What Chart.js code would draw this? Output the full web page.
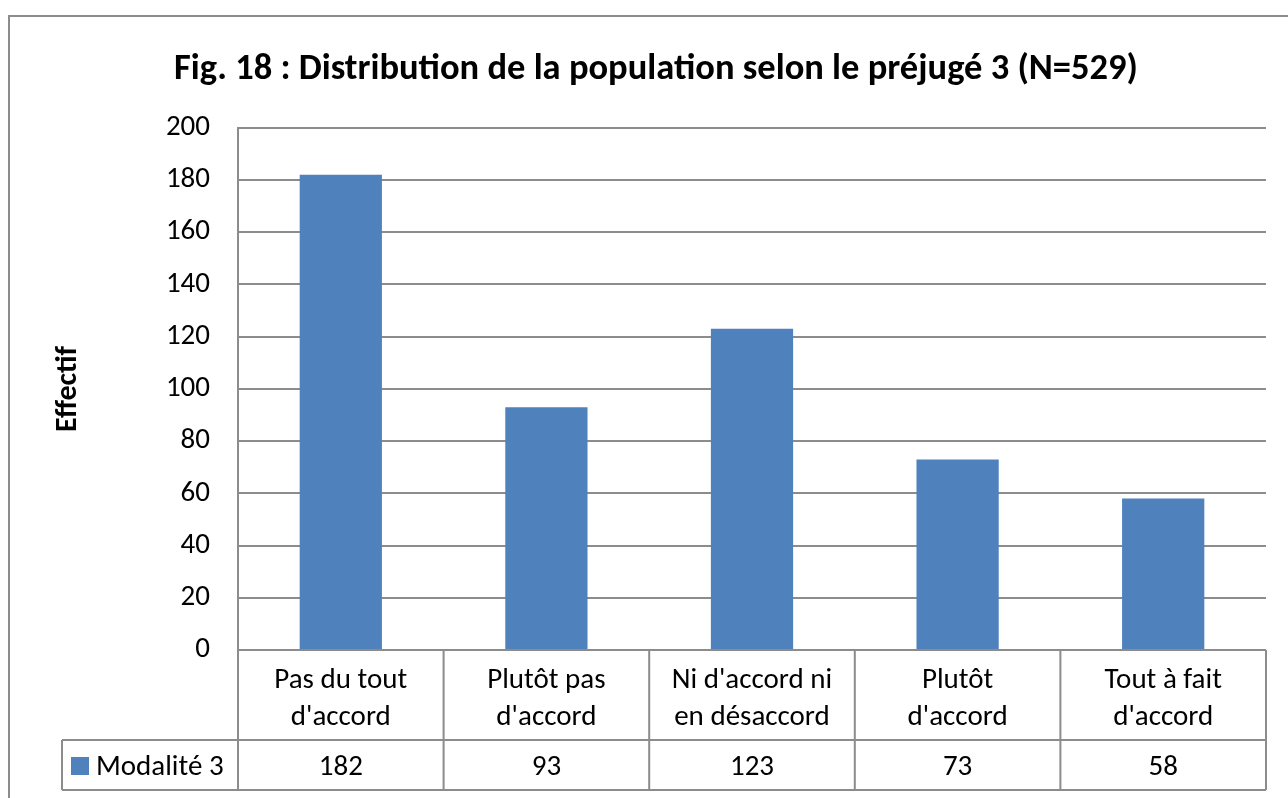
<!DOCTYPE html>
<html><head><meta charset="utf-8">
<script src="https://cdn.jsdelivr.net/npm/chart.js@4"></script>
<style>html,body{margin:0;padding:0;background:#fff;overflow:hidden}#wrap{position:absolute;left:0;top:0;width:1288px;height:798px}</style>
</head><body><div id="wrap"><canvas id="c" width="1288" height="798"></canvas></div>
<script>
const titleText = "Fig. 18 : Distribution de la population selon le préjugé 3 (N=529)";
const yTitle = "Effectif";
const categories = [["Pas du tout","d'accord"],["Plutôt pas","d'accord"],["Ni d'accord ni","en désaccord"],["Plutôt","d'accord"],["Tout à fait","d'accord"]];
const seriesName = "Modalité 3";
const values = [182, 93, 123, 73, 58];
const yMin = 0, yMax = 200, yStep = 20;

const FONT = "Carlito, Lato, 'Liberation Sans', sans-serif";
const GRID = '#8c8c8c';
const BAR = '#4f81bd';

const tablePlugin = {
  id: 'tablePlugin',
  afterDraw(chart) {
    const ctx = chart.ctx, a = chart.chartArea, xs = chart.scales.x;
    const n = categories.length;
    const row1 = a.bottom + 90, row2 = a.bottom + 140, legLeft = 62;
    ctx.save();
    ctx.strokeStyle = GRID; ctx.lineWidth = 2;
    ctx.strokeRect(9, 16, 1300, 800);
    ctx.beginPath();
    ctx.moveTo(a.left, a.bottom); ctx.lineTo(a.right, a.bottom);
    ctx.moveTo(legLeft, row1); ctx.lineTo(a.right, row1);
    ctx.moveTo(legLeft, row2); ctx.lineTo(a.right, row2);
    ctx.moveTo(legLeft, row1); ctx.lineTo(legLeft, row2);
    for (let i = 0; i <= n; i++) {
      let xb;
      if (i === 0) xb = a.left; else if (i === n) xb = a.right;
      else xb = (xs.getPixelForValue(i - 1) + xs.getPixelForValue(i)) / 2;
      ctx.moveTo(xb, a.bottom); ctx.lineTo(xb, row2);
    }
    ctx.stroke();
    ctx.fillStyle = '#000';
    ctx.font = "29px " + FONT;
    ctx.textAlign = 'center'; ctx.textBaseline = 'middle';
    categories.forEach((lines, i) => {
      const cx = xs.getPixelForValue(i);
      lines.forEach((t, j) => ctx.fillText(t, cx, a.bottom + 31 + j * 37));
      ctx.fillText(String(values[i]), cx, row1 + 28);
    });
    ctx.fillStyle = BAR;
    ctx.fillRect(71, 757, 18, 18);
    ctx.fillStyle = '#000';
    ctx.textAlign = 'left';
    ctx.fillText(seriesName, 96, row1 + 28);
    ctx.restore();
  }
};

new Chart(document.getElementById('c'), {
  type: 'bar',
  data: {
    labels: categories,
    datasets: [{ label: seriesName, data: values, backgroundColor: BAR, barPercentage: 0.4, categoryPercentage: 1.0 }]
  },
  options: {
    responsive: false,
    animation: false,
    layout: { padding: { left: 46, right: 22, top: 0, bottom: 148 } },
    plugins: {
      legend: { display: false },
      tooltip: { enabled: false },
      title: {
        display: true, text: titleText, color: '#000',
        font: { family: FONT, size: 36.5, weight: 'bold' },
        padding: { top: 48, bottom: 36 }
      }
    },
    scales: {
      x: { display: false, offset: true },
      y: {
        min: yMin, max: yMax,
        afterFit(s) { s.width = 192; },
        ticks: { stepSize: yStep, color: '#000', padding: 28, font: { family: FONT, size: 29 } },
        grid: { color: GRID, lineWidth: 2, drawTicks: false },
        border: { display: true, color: GRID, width: 2 },
        title: { display: true, text: yTitle, color: '#000', font: { family: FONT, size: 30, weight: 'bold' }, padding: { top: 4, bottom: 0 } }
      }
    }
  },
  plugins: [tablePlugin]
});
</script>
</body></html>
